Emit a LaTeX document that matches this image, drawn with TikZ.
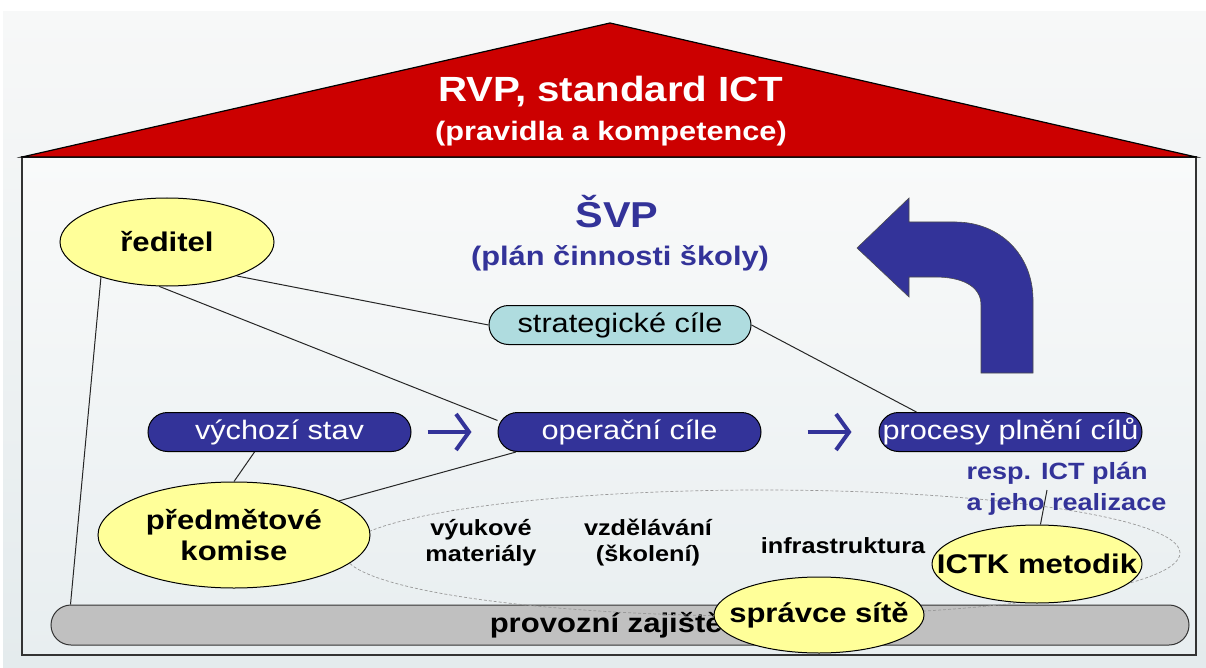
\documentclass[tikz,border=0pt]{standalone}
\usepackage{fontspec}
\setmainfont[FakeStretch=1.15]{Liberation Sans}
\usetikzlibrary{arrows.meta,positioning,shapes.geometric}
\definecolor{svpblue}{HTML}{333399}
\definecolor{roofred}{HTML}{CC0000}
\definecolor{pale}{HTML}{FFFF99}
\definecolor{stratcyan}{HTML}{AFDCDF}
\definecolor{bargray}{HTML}{C0C0C0}
\definecolor{slidetop}{HTML}{F7F8F8}
\definecolor{slidebot}{HTML}{E4EBED}
\definecolor{housetop}{HTML}{F9FAFA}
\definecolor{housebot}{HTML}{E8EEF0}
\newcommand{\pxsize}[2]{\fontsize{#1pt}{#2pt}\selectfont}

\begin{document}
\begin{tikzpicture}[
    x=1pt,y=-1pt,
    person/.style={draw,line width=1pt,ellipse,fill=pale,inner sep=0pt,align=center,
                   font=\pxsize{27}{31}\bfseries},
    goal/.style={draw,line width=1pt,rectangle,rounded corners=19.5pt,fill=svpblue,text=white,
                 minimum width=263pt,minimum height=39pt,inner sep=0pt,
                 text height=20pt,text depth=6pt,font=\pxsize{26.7}{31}},
    strat/.style={goal,fill=stratcyan,text=black,minimum width=262pt},
    link/.style={draw=black!85,line width=1pt},
    flow/.style={-{Straight Barb[length=13pt,width=36pt]},svpblue,line width=4pt},
    area/.style={align=center,font=\pxsize{22}{26}\bfseries}
  ]
    \fill[white] (0,0) rectangle (1206,668);
    \shade[top color=slidetop,bottom color=slidebot] (3,12) rectangle (1206,668);
    \useasboundingbox (0,0) rectangle (1206,668);

    %% house
    \shade[top color=housetop,bottom color=housebot,draw=black!80,line width=1.2pt]
      (22,157) rectangle (1196,655);
    \draw[fill=roofred,draw=black,line width=1.2pt] (22,157) -- (610,23) -- (1196,157) -- cycle;
    \node[text=white,font=\pxsize{35}{40}\bfseries,anchor=base] (rvp) at (611,102) {RVP, standard ICT};
    \node[text=white,font=\pxsize{26.7}{31}\bfseries,anchor=base] (rules) at (611,141) {(pravidla a kompetence)};
    \node[text=svpblue,font=\pxsize{36}{40}\bfseries,anchor=base] (svp) at (617,228) {ŠVP};
    \node[text=svpblue,font=\pxsize{26.8}{31}\bfseries,anchor=base] (schoolplan) at (620,265) {(plán činnosti školy)};

    %% big turning arrow
    \filldraw[fill=svpblue,draw=black!70,line width=0.6pt]
      (981,373) -- (981,305) .. controls (981,285) and (960,277) .. (935,277)
      -- (909,277) -- (909,297) -- (857,248) -- (909,198) -- (909,222)
      -- (955,222) .. controls (1000,222) and (1033,255) .. (1033,300)
      -- (1033,373) -- cycle;

    %% goals
    \node[strat] (strateg) at (620,325) {strategické cíle};
    \node[goal] (vychozi) at (279.5,432) {výchozí stav};
    \node[goal,right=86pt of vychozi] (operacni) {operační cíle};
    \node[goal,right=117pt of operacni] (procesy) {procesy plnění cílů};

    \draw[flow,shorten <=16pt,shorten >=26pt] (vychozi) -- (operacni);
    \draw[flow,shorten <=46pt,shorten >=27pt] (operacni) -- (procesy);

    %% base bar
    \node[draw=black!80,line width=1pt,fill=bargray,rounded corners=20pt,minimum width=1138pt,
          minimum height=40pt,inner sep=0pt,font=\pxsize{27}{31}\bfseries]
      (provoz) at (620,625) {provozní zajištění};

    %% areas
    \draw[gray!80,line width=0.7pt,dash pattern=on 3pt off 2pt]
      (762,553) ellipse [x radius=418pt,y radius=63pt];
    \node[area] (vyuka) at (481,543) {výukové\\materiály};
    \node[area] (skoleni) at (648,543) {vzdělávání\\(školení)};
    \node[area] (infra) at (843,546) {infrastruktura};

    %% people
    \node[person,minimum width=214pt,minimum height=88pt] (reditel) at (167,242) {ředitel};
    \node[person,minimum width=272pt,minimum height=106pt] (predmet) at (234,535) {předmětové\\komise};
    \node[person,minimum width=210pt,minimum height=78pt] (ictk) at (1037,564) {\makebox[0pt]{ICTK metodik}};
    \node[person,minimum width=210pt,minimum height=76pt] (spravce) at (819,615) {\makebox[0pt]{správce sítě}};

    \node[anchor=west,align=left,text=svpblue,font=\pxsize{23.5}{31}\bfseries]
      (respplan) at (963,489) {resp. ICT plán\\a jeho realizace};
    \coordinate (respend) at (1047,490);

    %% links
    \draw[link] (reditel.-26) -- (strateg.west);
    \draw[link] (reditel.-100) -- (operacni.175);
    \draw[link] (reditel.-152) -- ([xshift=20pt]provoz.north west);
    \draw[link] (strateg.east) -- (procesy.168);
    \draw[link] ([xshift=-25pt]vychozi.south) -- (predmet.north);
    \draw[link] (operacni.190) -- (predmet.18);
    \draw[link] (ictk.85) -- (respend);
  \end{tikzpicture}
\end{document}
